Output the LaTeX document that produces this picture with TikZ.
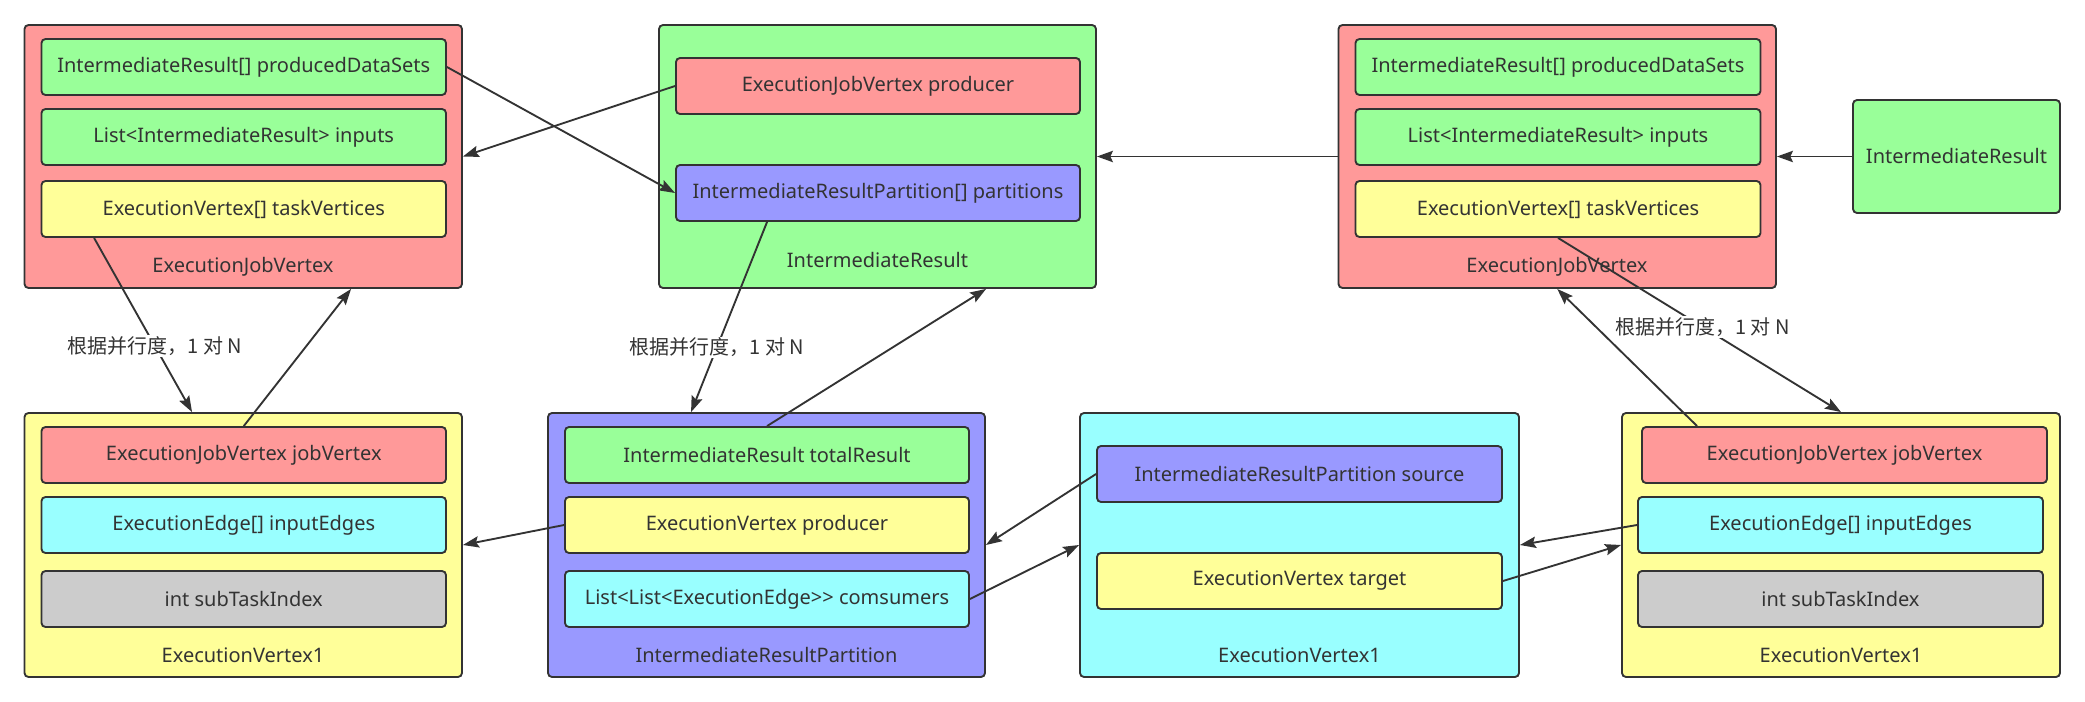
\documentclass[tikz,border=0pt]{standalone}
\usepackage{fontspec}
\setmainfont{Noto Sans}
\newfontfamily\cjk{Noto Sans CJK SC}
\usetikzlibrary{arrows.meta,calc}
\definecolor{cred}{HTML}{FF9999}
\definecolor{cgreen}{HTML}{99FF99}
\definecolor{cblue}{HTML}{9999FF}
\definecolor{cyel}{HTML}{FFFF99}
\definecolor{ccyan}{HTML}{99FFFF}
\definecolor{cgray}{HTML}{CCCCCC}
\definecolor{tc}{HTML}{333333}
\newcommand\mkbox[7]{\node[box, fill=#6, minimum width={(#4-#2)*0.75pt}, minimum height={(#5-#3)*0.75pt}] (#1) at ({(#2+#4)/2},{(#3+#5)/2}) {#7};}
\begin{document}
\begin{tikzpicture}[x=0.75pt,y=-0.75pt,
  every node/.style={text=tc, font=\fontsize{15}{18}\selectfont},
  box/.style={draw=tc, line width=1.4pt, rounded corners=3pt, inner sep=0pt},
  ttl/.style={inner sep=0pt},
  conn/.style={draw=tc, line width=1.4pt, -{Stealth[length=12pt,width=8.5pt,inset=2pt]}},
  lbl/.style={fill=white, inner sep=1pt, font=\cjk\fontsize{15}{18}\selectfont}]
\useasboundingbox[fill=white] (0,0) rectangle (2085,702);
% ExecutionJobVertex (left)
\mkbox{ejv1}{24.5}{25}{462}{288}{cred}{}
\node[ttl] (ejv1t) at (243,267) {ExecutionJobVertex};
\mkbox{ejv1pd}{41.5}{39}{446}{95}{cgreen}{IntermediateResult[] producedDataSets}
\mkbox{ejv1in}{41.5}{109}{446}{165}{cgreen}{List<IntermediateResult> inputs}
\mkbox{ejv1tv}{41.5}{181}{446}{237}{cyel}{ExecutionVertex[] taskVertices}
% IntermediateResult (middle)
\mkbox{ir}{659}{25}{1096}{288}{cgreen}{}
\node[ttl] (irt) at (877.5,260) {IntermediateResult};
\mkbox{irprod}{676}{58}{1080}{114}{cred}{ExecutionJobVertex producer}
\mkbox{irpart}{676}{165}{1080}{221}{cblue}{IntermediateResultPartition[] partitions}
% ExecutionJobVertex (right)
\mkbox{ejv2}{1338.5}{25}{1776}{288}{cred}{}
\node[ttl] (ejv2t) at (1557,267) {ExecutionJobVertex};
\mkbox{ejv2pd}{1355.5}{39}{1760.5}{95}{cgreen}{IntermediateResult[] producedDataSets}
\mkbox{ejv2in}{1355.5}{109}{1760.5}{165}{cgreen}{List<IntermediateResult> inputs}
\mkbox{ejv2tv}{1355.5}{181}{1760.5}{237}{cyel}{ExecutionVertex[] taskVertices}
% IntermediateResult (small)
\mkbox{irs}{1853}{100}{2060}{213}{cgreen}{IntermediateResult}
% ExecutionVertex1 (left)
\mkbox{ev1}{24.5}{413}{462}{677}{cyel}{}
\node[ttl] (ev1t) at (243,655) {ExecutionVertex1};
\mkbox{ev1jv}{41.5}{427}{446}{483}{cred}{ExecutionJobVertex jobVertex}
\mkbox{ev1ie}{41.5}{497}{446}{553}{ccyan}{ExecutionEdge[] inputEdges}
\mkbox{ev1st}{41.5}{571}{446}{627}{cgray}{int subTaskIndex}
% IntermediateResultPartition
\mkbox{irp}{548}{413}{985}{677}{cblue}{}
\node[ttl] (irpt) at (766.5,655) {IntermediateResultPartition};
\mkbox{irptot}{565}{427}{969}{483}{cgreen}{IntermediateResult totalResult}
\mkbox{irpprod}{565}{497}{969}{553}{cyel}{ExecutionVertex producer}
\mkbox{irpcons}{565}{571}{969}{627}{ccyan}{List<List<ExecutionEdge>{}> comsumers}
% ExecutionVertex1 (cyan)
\mkbox{evb}{1080}{413}{1519}{677}{ccyan}{}
\node[ttl] (evbt) at (1299.5,655) {ExecutionVertex1};
\mkbox{evbsrc}{1097}{446}{1502}{502}{cblue}{IntermediateResultPartition source}
\mkbox{evbtgt}{1097}{553}{1502}{609}{cyel}{ExecutionVertex target}
% ExecutionVertex1 (right)
\mkbox{evc}{1622}{413}{2060}{677}{cyel}{}
\node[ttl] (evct) at (1841,655) {ExecutionVertex1};
\mkbox{evcjv}{1642}{427}{2047}{483}{cred}{ExecutionJobVertex jobVertex}
\mkbox{evcie}{1638}{497}{2043}{553}{ccyan}{ExecutionEdge[] inputEdges}
\mkbox{evcst}{1638}{571}{2043}{627}{cgray}{int subTaskIndex}
% connectors
\draw[conn] (ejv1pd.east) -- (irpart.west);
\draw[conn] (irprod.west) -- (ejv1.east);
\draw[conn] ($(ejv1tv.south west)+(53.5,0)$) -- node[lbl,pos=0.62] (l1) {根据并行度，1 对 N} ($(ev1.north west)+(168.5,0)$);
\draw[conn] (ev1jv.north) -- ($(ejv1.south west)+(327.5,0)$);
\draw[conn] (irpprod.west) -- (ev1.east);
\draw[conn] ($(irpart.south west)+(92,0)$) -- node[lbl,pos=0.66] (l2) {根据并行度，1 对 N} ($(irp.north west)+(144,0)$);
\draw[conn] (irptot.north) -- ($(ir.south west)+(328,0)$);
\draw[conn] (ejv2.west) -- (ir.east);
\draw[conn] (irs.west) -- (ejv2.east);
\draw[conn] (evbsrc.west) -- (irp.east);
\draw[conn] (irpcons.east) -- (evb.west);
\draw[conn] (evcie.west) -- (evb.east);
\draw[conn] (evbtgt.east) -- (evc.west);
\draw[conn] (ejv2tv.south) -- node[lbl,pos=0.51] (l3) {根据并行度，1 对 N} (evc.north);
\draw[conn] ($(evcjv.north west)+(56,0)$) -- (ejv2.south);
\end{tikzpicture}
\end{document}
